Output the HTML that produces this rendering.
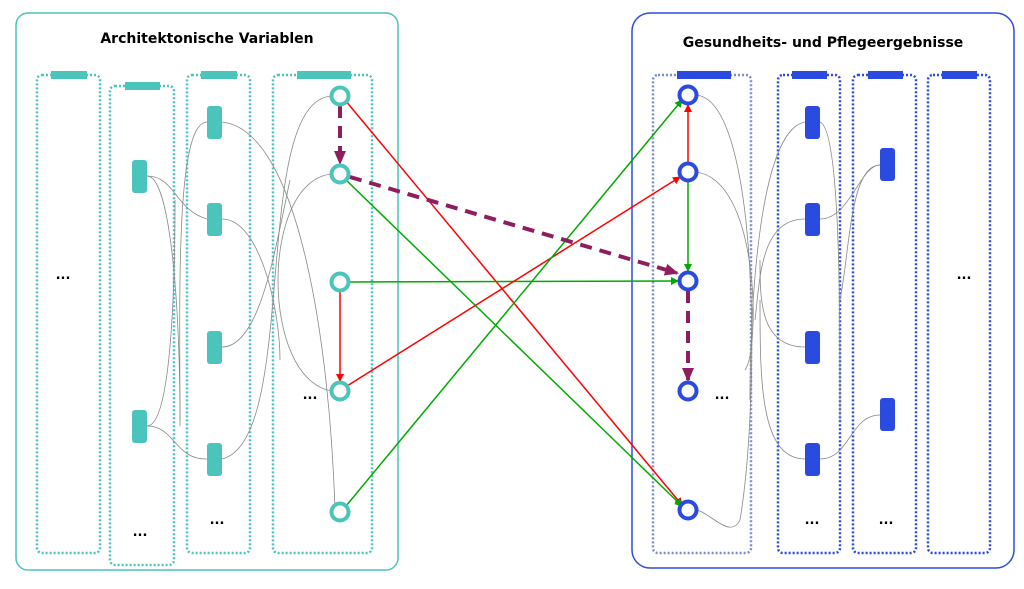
<!DOCTYPE html><html><head><meta charset="utf-8"><style>body{margin:0;background:#fff}svg{display:block}</style></head><body>
<svg width="1024" height="589" viewBox="0 0 1024 589" xmlns="http://www.w3.org/2000/svg" font-family="DejaVu Sans, Liberation Sans, sans-serif">
<defs>
<marker id="ar" markerWidth="8" markerHeight="8" refX="7" refY="4" orient="auto" markerUnits="userSpaceOnUse"><path d="M0,0L8,4L0,8z" fill="#f00"/></marker>
<marker id="ag" markerWidth="8" markerHeight="8" refX="7" refY="4" orient="auto" markerUnits="userSpaceOnUse"><path d="M0,0L8,4L0,8z" fill="#0a0"/></marker>
<marker id="ap" markerWidth="14" markerHeight="12" refX="12" refY="6" orient="auto" markerUnits="userSpaceOnUse"><path d="M0,0L14,6L0,12z" fill="#8f1e5e"/></marker>
</defs>
<rect x="16" y="13" width="382" height="557" rx="12" fill="none" stroke="#4bc4bb" stroke-width="1.5"/>
<rect x="632" y="13" width="382" height="555" rx="18" fill="none" stroke="#2b4be0" stroke-width="1.5"/>
<text x="207" y="43" text-anchor="middle" font-size="14" font-weight="bold">Architektonische Variablen</text>
<text x="823" y="47" text-anchor="middle" font-size="14" font-weight="bold">Gesundheits- und Pflegeergebnisse</text>
<g fill="none" stroke="#4bc4bb" stroke-width="2.5" stroke-dasharray="2,2">
<rect x="37" y="75" width="63" height="478" rx="5"/><rect x="110" y="86" width="64" height="479" rx="5"/>
<rect x="187" y="75" width="63" height="478" rx="5"/><rect x="273" y="75" width="99" height="478" rx="5"/></g>
<g fill="none" stroke-width="2.5" stroke-dasharray="2,2">
<rect x="653" y="75" width="98" height="478" rx="5" stroke="#7a8ccc"/>
<rect x="778" y="75" width="62" height="478" rx="5" stroke="#2b4be0"/><rect x="853" y="75" width="63" height="478" rx="5" stroke="#2b4be0"/><rect x="928" y="75" width="62" height="478" rx="5" stroke="#2b4be0"/></g>
<g fill="#4bc4bb"><rect x="51" y="71" width="36" height="8"/><rect x="125" y="82" width="35" height="8"/><rect x="201" y="71" width="36" height="8"/><rect x="297" y="71" width="54" height="8"/>
<rect x="132" y="160" width="15" height="33" rx="3"/><rect x="132" y="410" width="15" height="33" rx="3"/>
<rect x="207" y="106" width="15" height="33" rx="3"/><rect x="207" y="203" width="15" height="33" rx="3"/><rect x="207" y="331" width="15" height="33" rx="3"/><rect x="207" y="443" width="15" height="33" rx="3"/></g>
<g fill="#2b4be0"><rect x="677" y="71" width="54" height="8"/><rect x="792" y="71" width="35" height="8"/><rect x="868" y="71" width="35" height="8"/><rect x="942" y="71" width="35" height="8"/>
<rect x="805" y="106" width="15" height="33" rx="3"/><rect x="805" y="203" width="15" height="33" rx="3"/><rect x="805" y="331" width="15" height="33" rx="3"/><rect x="805" y="443" width="15" height="33" rx="3"/>
<rect x="880" y="148" width="15" height="33" rx="3"/><rect x="880" y="398" width="15" height="33" rx="3"/></g>
<g fill="none" stroke="#888" stroke-width="0.8">
<path d="M147,176C175,176 175,210 207,219"/><path d="M147,176C170,176 180,300 180,426"/>
<path d="M147,426C175,426 175,460 207,459"/><path d="M147,426C170,426 175,300 175,200"/>
<path d="M207,122C175,122 180,300 180,420"/><path d="M222,122C300,130 330,350 335,510"/>
<path d="M222,219C260,219 280,310 280,360"/><path d="M222,347C260,347 275,250 290,180"/>
<path d="M222,459C300,440 250,100 332,96"/><path d="M332,174C260,180 260,380 332,391"/>
<path d="M696,95C760,100 760,400 740,520 C730,540 710,512 696,510"/><path d="M696,172C760,180 760,350 745,370"/>
<path d="M805,122C760,130 750,300 750,400"/><path d="M820,122C840,130 840,300 840,420"/>
<path d="M805,219C760,219 760,280 755,320"/><path d="M805,347C760,347 760,300 760,260"/>
<path d="M805,459C760,459 760,380 760,300"/><path d="M820,219C850,219 860,165 880,165"/>
<path d="M820,459C850,459 850,415 880,415"/><path d="M880,165C850,165 850,250 840,300"/></g>
<g stroke-width="1.5" fill="none">
<line x1="345" y1="100" x2="682" y2="505" stroke="#f00" marker-end="url(#ar)"/>
<line x1="345" y1="179" x2="682" y2="506" stroke="#0a0" marker-end="url(#ag)"/>
<line x1="349" y1="282" x2="678" y2="281" stroke="#0a0" marker-end="url(#ag)"/>
<line x1="340" y1="291" x2="340" y2="381" stroke="#f00" marker-end="url(#ar)"/>
<line x1="347" y1="386" x2="680" y2="177" stroke="#f00" marker-end="url(#ar)"/>
<line x1="346" y1="506" x2="682" y2="100" stroke="#0a0" marker-end="url(#ag)"/>
<line x1="688" y1="163" x2="688" y2="105" stroke="#f00" marker-end="url(#ar)"/>
<line x1="688" y1="181" x2="688" y2="271" stroke="#0a0" marker-end="url(#ag)"/>
</g>
<g stroke="#8f1e5e" stroke-width="4" fill="none" stroke-dasharray="12,8">
<line x1="340" y1="106" x2="340" y2="163" marker-end="url(#ap)"/>
<line x1="350" y1="177" x2="677" y2="273" marker-end="url(#ap)"/>
<line x1="688" y1="291" x2="688" y2="380" marker-end="url(#ap)"/></g>
<g fill="#fff" stroke-width="4"><g stroke="#4bc4bb"><circle cx="340" cy="96" r="8.5"/><circle cx="340" cy="174" r="8.5"/><circle cx="340" cy="282" r="8.5"/><circle cx="340" cy="391" r="8.5"/><circle cx="340" cy="512" r="8.5"/></g>
<g stroke="#2b4be0"><circle cx="688" cy="95" r="8.5"/><circle cx="688" cy="172" r="8.5"/><circle cx="688" cy="281" r="8.5"/><circle cx="688" cy="391" r="8.5"/><circle cx="688" cy="510" r="8.5"/></g></g>
<g font-size="13" font-weight="bold" text-anchor="middle"><text x="63" y="279">...</text><text x="140" y="536">...</text><text x="217" y="524">...</text><text x="310" y="399">...</text>
<text x="722" y="399">...</text><text x="812" y="524">...</text><text x="886" y="524">...</text><text x="964" y="279">...</text></g>
</svg></body></html>
